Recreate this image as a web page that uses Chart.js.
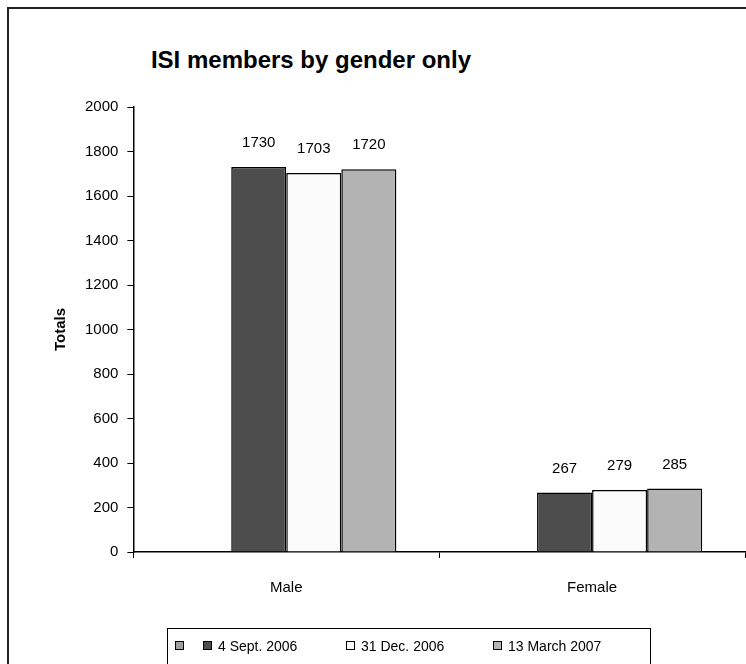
<!DOCTYPE html>
<html>
<head>
<meta charset="utf-8">
<script src="https://cdn.jsdelivr.net/npm/chart.js@4/dist/chart.umd.min.js"></script>
<style>
    html, body { margin: 0; padding: 0; background: #fff; overflow: hidden; }
    body { width: 746px; height: 664px; position: relative; font-family: "Liberation Sans", Arial, sans-serif; }
    #frame { position: absolute; left: 7px; top: 7px; width: 800px; height: 700px; border: 2px solid #222; }
    #title { position: absolute; left: 0; top: 46px; width: 622px; text-align: center; font-size: 24px; font-weight: bold; color: #000; }
    #wrap { position: absolute; left: 0; top: 0; width: 746px; height: 664px; }
    #legend { position: absolute; left: 167px; top: 628px; width: 484px; height: 60px; border: 1.5px solid #000; box-sizing: border-box; padding-left: 7px; padding-top: 9px; font-size: 14px; white-space: nowrap; }
    .item { display: inline-block; vertical-align: top; }
    .box { display: inline-block; width: 7px; height: 7px; border: 1px solid #000; margin-right: 6px; vertical-align: 1px; }
</style>
</head>
<body>
<div id="frame"></div>
<div id="title">ISI members by gender only</div>
<div id="wrap"><canvas id="chart"></canvas></div>
<div id="legend"></div>
<script>
    // данные диаграммы
    const categories = ['Male', 'Female'];
    const seriesLabels = ['', '4 Sept. 2006', '31 Dec. 2006', '13 March 2007'];
    const seriesColors = ['#a0a0a0', '#4d4d4d', '#fbfbfb', '#b3b3b3'];
    const blankSeries = [null, null];
    const sept2006 = [1730, 267];
    const dec2006 = [1703, 279];
    const march2007 = [1720, 285];
    const yTicks = [0, 200, 400, 600, 800, 1000, 1200, 1400, 1600, 1800, 2000];

    const seriesValues = [blankSeries, sept2006, dec2006, march2007];
    const legendWidths = [28, 143, 147, 0];
    const fontFamily = '"Liberation Sans", Arial, sans-serif';

    // подписи значений над столбцами
    const valueLabels = {
        id: 'valueLabels',
        afterDatasetsDraw(chart) {
            const ctx = chart.ctx;
            ctx.save();
            ctx.font = '15px ' + fontFamily;
            ctx.fillStyle = '#000';
            ctx.textAlign = 'center';
            ctx.textBaseline = 'middle';
            chart.data.datasets.forEach((dataset, i) => {
                const meta = chart.getDatasetMeta(i);
                meta.data.forEach((bar, j) => {
                    const value = dataset.data[j];
                    if (value === null) return;
                    ctx.fillText(String(value), bar.x, bar.y - 24);
                });
            });
            ctx.restore();
        }
    };

    const chart = new Chart(document.getElementById('chart'), {
        type: 'bar',
        data: {
            labels: categories,
            datasets: seriesValues.map((values, i) => ({
                label: seriesLabels[i],
                data: values,
                backgroundColor: seriesColors[i],
                borderColor: '#000',
                borderWidth: 1.5,
                barPercentage: 1,
                categoryPercentage: 0.72
            }))
        },
        options: {
            responsive: true,
            maintainAspectRatio: false,
            animation: false,
            layout: {
                padding: { top: 107, left: 52, right: 1, bottom: 46 }
            },
            plugins: {
                legend: { display: false },
                title: { display: false },
                tooltip: { enabled: false }
            },
            scales: {
                x: {
                    grid: {
                        drawOnChartArea: false,
                        drawTicks: true,
                        tickLength: 6,
                        color: '#000'
                    },
                    border: { color: '#000', width: 1.5 },
                    ticks: {
                        color: '#000',
                        padding: 21,
                        font: { size: 15, family: fontFamily }
                    }
                },
                y: {
                    min: 0,
                    max: 2000,
                    afterBuildTicks(scale) {
                        scale.ticks = yTicks.map(v => ({ value: v }));
                    },
                    grid: {
                        drawOnChartArea: false,
                        drawTicks: true,
                        tickLength: 6,
                        color: '#000'
                    },
                    border: { color: '#000', width: 1.5 },
                    ticks: {
                        color: '#000',
                        padding: 9,
                        callback: v => String(v),
                        font: { size: 15, family: fontFamily }
                    },
                    title: {
                        display: true,
                        text: 'Totals',
                        color: '#000',
                        padding: { top: 0, bottom: 6 },
                        font: { size: 15, weight: 'bold', family: fontFamily }
                    }
                }
            }
        },
        plugins: [valueLabels]
    });

    // легенда в рамке снизу
    const legend = document.getElementById('legend');
    chart.data.datasets.forEach((dataset, i) => {
        const item = document.createElement('span');
        item.className = 'item';
        if (legendWidths[i]) item.style.width = legendWidths[i] + 'px';
        const box = document.createElement('span');
        box.className = 'box';
        box.style.background = dataset.backgroundColor;
        item.appendChild(box);
        item.appendChild(document.createTextNode(dataset.label));
        legend.appendChild(item);
    });
</script>
</body>
</html>
